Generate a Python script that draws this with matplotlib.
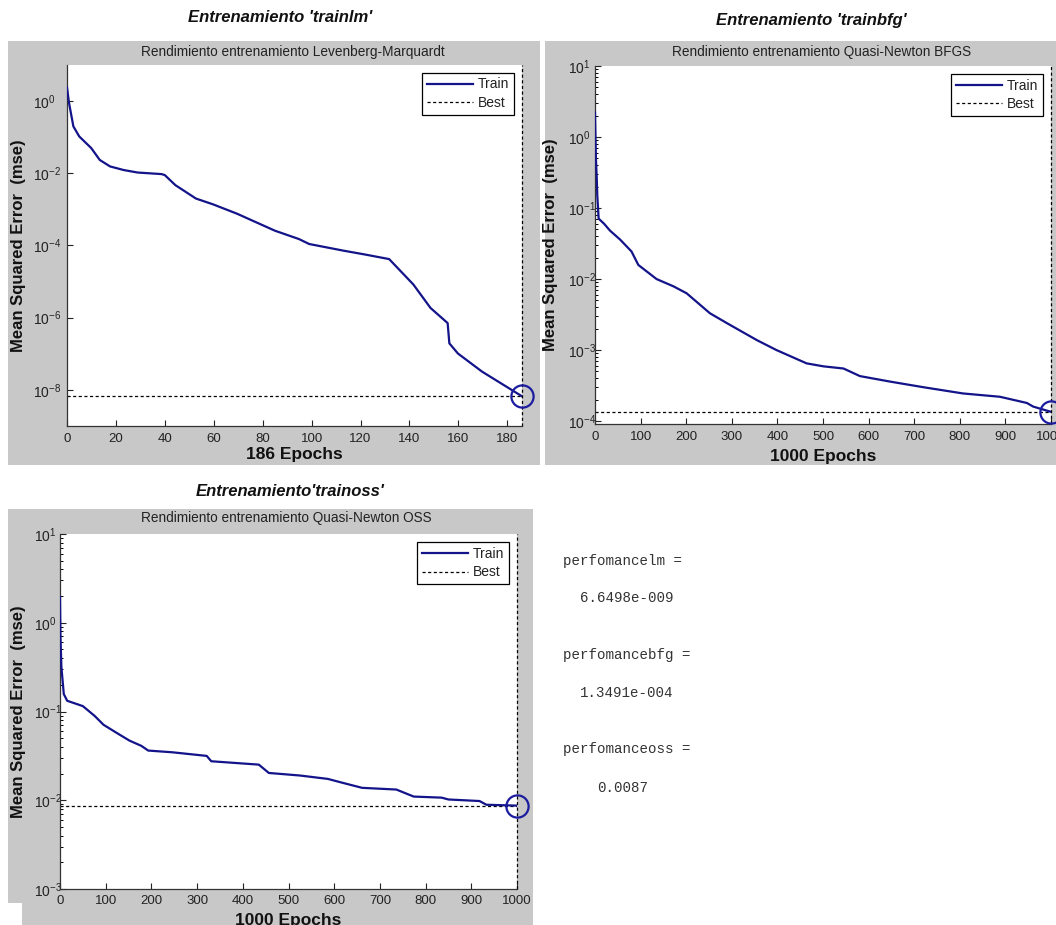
import math
import matplotlib
matplotlib.use("Agg")
import matplotlib.pyplot as plt
from matplotlib.patches import Rectangle
from matplotlib.ticker import FixedLocator, FuncFormatter, NullLocator, NullFormatter

# ---------------------------------------------------------------------------
# Training records (epoch, mse) for the three training functions
# ---------------------------------------------------------------------------
lm_epochs = [0, 0.8, 2.6, 5, 9.9, 13.4, 17.6, 23.2, 28.9, 38.7, 40, 44.3,
             52.7, 59.7, 69.5, 85, 94.8, 99, 113, 122, 131.7, 141.6, 148.6,
             155.6, 156.3, 159.8, 169.7, 186]
lm_mse = [2.4, 0.91, 0.20, 0.105, 0.050, 0.0234, 0.0155, 0.0123, 0.0105,
          0.0095, 0.0089, 0.0047, 0.0020, 1.38e-3, 7.6e-4, 2.57e-4, 1.51e-4,
          1.10e-4, 7.2e-5, 5.6e-5, 4.2e-5, 8.3e-6, 1.86e-6, 7.1e-7, 1.95e-7,
          1.02e-7, 3.2e-8, 6.6498e-9]
lm_best_epoch = 186
lm_best = 6.6498e-9

bfg_epochs = [0, 2, 4, 5, 8, 20, 33, 55, 80, 95, 135, 172, 201, 252, 289, 355,
              398, 464, 501, 545, 581, 647, 720, 807, 888, 947, 961, 1000]
bfg_mse = [2.2, 0.5, 0.25, 0.15, 0.071, 0.060, 0.048, 0.036, 0.0245, 0.0158,
           0.010, 0.0079, 0.0063, 0.0033, 0.0024, 0.00138, 0.0010, 6.5e-4,
           5.9e-4, 5.5e-4, 4.3e-4, 3.6e-4, 3.0e-4, 2.45e-4, 2.2e-4, 1.8e-4,
           1.6e-4, 1.3491e-4]
bfg_best_epoch = 1000
bfg_best = 1.3491e-4

oss_epochs = [0, 1, 3, 8.3, 15.8, 50, 76, 95, 125, 152, 178, 193, 246, 321,
              331, 435, 457, 525, 586, 623, 661, 736, 774, 835, 850, 918, 933,
              1000]
oss_mse = [1.95, 0.70, 0.32, 0.157, 0.132, 0.115, 0.089, 0.071, 0.057, 0.047,
           0.041, 0.0363, 0.0347, 0.0316, 0.0275, 0.0252, 0.0203, 0.019,
           0.0174, 0.0155, 0.0138, 0.0132, 0.011, 0.0107, 0.0102, 0.0098,
           0.0089, 0.0087]
oss_best_epoch = 1000
oss_best = 0.0087

lm_xticks = [0, 20, 40, 60, 80, 100, 120, 140, 160, 180]
k_xticks = [0, 100, 200, 300, 400, 500, 600, 700, 800, 900, 1000]
lm_yexp = [0, -2, -4, -6, -8]
bfg_yexp = [1, 0, -1, -2, -3, -4]
oss_yexp = [1, 0, -1, -2, -3]

console_lines = [
    ("perfomancelm =", 563, 561),
    ("6.6498e-009", 580, 598),
    ("perfomancebfg =", 563, 655),
    ("1.3491e-004", 580, 693),
    ("perfomanceoss =", 563, 749),
    ("0.0087", 597, 788),
]

# ---------------------------------------------------------------------------
# Styling
# ---------------------------------------------------------------------------
W, H = 1056, 925
GRAY = "#c8c8c8"
TRAIN = "#13138a"
CIRCLE = "#1c1ca0"
DASH = (0, (2.5, 2))

plt.rcParams["font.family"] = ["Liberation Sans", "DejaVu Sans"]
plt.rcParams["mathtext.fontset"] = "custom"
plt.rcParams["mathtext.rm"] = "Liberation Sans"
plt.rcParams["mathtext.it"] = "Liberation Sans:italic"
plt.rcParams["mathtext.bf"] = "Liberation Sans:bold"

fig = plt.figure(figsize=(W / 100, H / 100), dpi=100, facecolor="white")


def fx(x):
    return x / W


def fy(y):
    return 1 - y / H


def rect(l, t, r, b, color):
    fig.patches.append(Rectangle((fx(l), fy(b)), (r - l) / W, (b - t) / H,
                                 transform=fig.transFigure, facecolor=color,
                                 edgecolor="none", zorder=-5))


def perf_axes(box, epochs, mse, best_epoch, best, xlim, ylim, xticks, yexp,
              minor, xlabel, ylabel_right, ytick_left, xlabel_off, xpad):
    l, t, r, b = box
    ax = fig.add_axes([fx(l), fy(b), (r - l) / W, (b - t) / H])
    ax.set_facecolor("white")
    ax.semilogy(epochs, mse, color=TRAIN, lw=1.6, label="Train", zorder=3)
    ax.axhline(best, color="black", ls=DASH, lw=0.9, label="Best", zorder=2)
    ax.axvline(best_epoch, color="black", ls=DASH, lw=0.9, clip_on=False,
               zorder=2)
    ax.plot([best_epoch], [best], "o", ms=16, mfc="none", mec=CIRCLE,
            mew=1.6, clip_on=False, zorder=4)
    ax.set_xlim(*xlim)
    ax.set_ylim(*ylim)

    ax.xaxis.set_major_locator(FixedLocator(xticks))
    ax.yaxis.set_major_locator(FixedLocator([10.0 ** e for e in yexp]))
    ax.yaxis.set_major_formatter(FuncFormatter(
        lambda v, p: r"$\mathregular{10^{%d}}$" % round(math.log10(v))))
    if minor:
        mins = []
        for e in range(min(yexp) - 1, max(yexp) + 1):
            for k in range(2, 10):
                v = k * 10.0 ** e
                if ylim[0] < v < ylim[1]:
                    mins.append(v)
        ax.yaxis.set_minor_locator(FixedLocator(mins))
    else:
        ax.yaxis.set_minor_locator(NullLocator())
    ax.yaxis.set_minor_formatter(NullFormatter())
    ax.xaxis.set_minor_locator(NullLocator())

    ax.tick_params(axis="both", which="major", direction="in", length=4,
                   width=0.8, colors="#222222", top=False, right=False)
    ax.tick_params(axis="x", labelsize=9.5, pad=xpad)
    # y tick labels share a common left edge, exponents run to the right
    ax.tick_params(axis="y", labelsize=10, pad=(l - ytick_left) * 0.72)
    for tk in ax.yaxis.get_major_ticks():
        tk.label1.set_horizontalalignment("left")
    ax.tick_params(axis="y", which="minor", direction="in", length=2,
                   width=0.7, right=False)
    for s in ("top", "right"):
        ax.spines[s].set_visible(False)
    for s in ("left", "bottom"):
        ax.spines[s].set_color("#333333")
        ax.spines[s].set_linewidth(0.9)

    ax.set_xlabel(xlabel, fontsize=12.5, fontweight="bold", color="#111111")
    ax.xaxis.set_label_coords(0.5, -(xlabel_off / (b - t)))
    ax.set_ylabel("Mean Squared Error  (mse)", fontsize=12,
                  fontweight="bold", color="#111111")
    ax.yaxis.set_label_coords(-(l - ylabel_right) / (r - l), 0.5)

    leg = ax.legend(loc="upper right", fontsize=10, frameon=True,
                    fancybox=False, edgecolor="black", framealpha=1,
                    handlelength=3.3, handletextpad=0.4, borderpad=0.35,
                    labelspacing=0.35, borderaxespad=0.55)
    leg.get_frame().set_linewidth(0.9)
    for txt in leg.get_texts():
        txt.set_color("#222222")
    return ax


# Gray figure backgrounds
rect(8, 41, 540, 465, GRAY)
rect(545, 41, 1056, 465, GRAY)
rect(8, 509, 533, 903, GRAY)
rect(22, 903, 533, 925, GRAY)

perf_axes((67, 65, 522, 426), lm_epochs, lm_mse, lm_best_epoch, lm_best,
          (0, 186), (1e-9, 1e1), lm_xticks, lm_yexp, False,
          "186 Epochs", 26, 33, 21.5, 5)
perf_axes((595, 66, 1051, 424), bfg_epochs, bfg_mse, bfg_best_epoch,
          bfg_best, (0, 1000), (0.91e-4, 1e1), k_xticks, bfg_yexp, True,
          "1000 Epochs", 558, 568, 25.5, 5)
perf_axes((60, 534, 517, 889), oss_epochs, oss_mse, oss_best_epoch,
          oss_best, (0, 1000), (1e-3, 1e1), k_xticks, oss_yexp, True,
          "1000 Epochs", 26, 34, 23.5, 4.5)

# Window titles and plot headings
fig.text(fx(280), fy(17), "Entrenamiento 'trainlm'", ha="center",
         va="center", fontsize=12, fontweight="bold", style="italic",
         color="#111111")
fig.text(fx(811), fy(21), "Entrenamiento 'trainbfg'", ha="center",
         va="center", fontsize=12, fontweight="bold", style="italic",
         color="#111111")
fig.text(fx(290), fy(492), "Entrenamiento'trainoss'", ha="center",
         va="center", fontsize=12, fontweight="bold", style="italic",
         color="#111111")

fig.text(fx(293), fy(52), "Rendimiento entrenamiento Levenberg-Marquardt",
         ha="center", va="center", fontsize=9.8, color="#222222")
fig.text(fx(822), fy(52), "Rendimiento entrenamiento Quasi-Newton BFGS",
         ha="center", va="center", fontsize=9.8, color="#222222")
fig.text(fx(286), fy(518), "Rendimiento entrenamiento Quasi-Newton OSS",
         ha="center", va="center", fontsize=9.8, color="#222222")

# Command-window output
for s, x, y in console_lines:
    fig.text(fx(x), fy(y), s, ha="left", va="center", fontsize=10.2,
             family=["Liberation Mono", "DejaVu Sans Mono"], color="#333333")

fig.savefig("out.png", dpi=100, facecolor="white")
